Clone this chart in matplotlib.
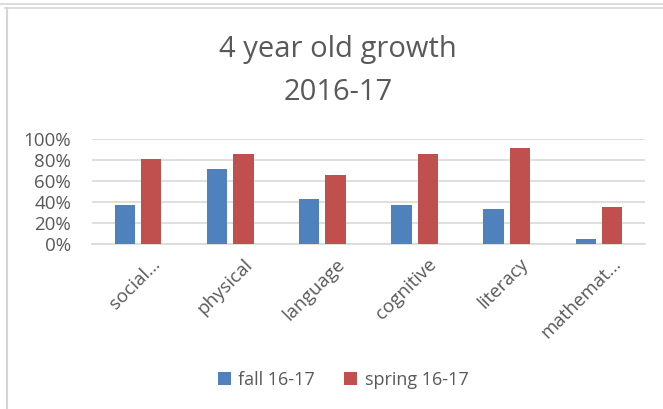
import numpy as np
import matplotlib
matplotlib.use('Agg')
import matplotlib.pyplot as plt
import matplotlib.transforms as mtransforms
from matplotlib.lines import Line2D
from matplotlib.ticker import PercentFormatter

plt.rcParams['font.family'] = ['Open Sans', 'DejaVu Sans']

categories = ['social…', 'physical', 'language', 'cognitive', 'literacy', 'mathemat…']
fall = [0.37, 0.71, 0.43, 0.37, 0.33, 0.05]
spring = [0.81, 0.86, 0.66, 0.86, 0.91, 0.35]
series_names = ['fall 16-17', 'spring 16-17']

blue = '#4f81bd'
red = '#c0504d'
gray = '#595959'

fig = plt.figure(figsize=(6.63, 4.09), dpi=100)
ax = fig.add_axes([92/663, 1-244/409, 553/663, 105/409])

x = np.arange(len(categories))
w = 0.22
gap = 0.065
ax.bar(x - (w+gap)/2, fall, w, color=blue, label=series_names[0], zorder=3)
ax.bar(x + (w+gap)/2, spring, w, color=red, label=series_names[1], zorder=3)

ax.set_xlim(-0.5, len(categories)-0.5)
ax.set_ylim(0, 1.0)
ax.set_yticks(np.arange(0, 1.01, 0.2))
ax.yaxis.set_major_formatter(PercentFormatter(1.0, decimals=0))
ax.grid(axis='y', color='#d9d9d9', linewidth=1.2, zorder=0)
for s in ['top', 'right', 'left']:
    ax.spines[s].set_visible(False)
ax.spines['bottom'].set_color('#d9d9d9')
ax.spines['bottom'].set_linewidth(1.2)
ax.tick_params(axis='both', length=0, labelcolor=gray, labelsize=13.5)
ax.tick_params(axis='y', pad=15)
ax.set_xticks(x)
ax.set_xticklabels(categories, rotation=45, ha='right', rotation_mode='anchor')
ax.tick_params(axis='x', pad=8)
offset = mtransforms.ScaledTranslation(13/100, 0, fig.dpi_scale_trans)
for lbl in ax.get_xticklabels():
    lbl.set_transform(lbl.get_transform() + offset)

fig.text(0.51, 1-50/409, '4 year old growth', ha='center', va='center', fontsize=21, color=gray)
fig.text(0.51, 1-93/409, '2016-17', ha='center', va='center', fontsize=21, color=gray)

leg = fig.legend(loc='center', bbox_to_anchor=(343/663, 1-380/409), ncol=2, frameon=False,
                 fontsize=13, handlelength=0.75, handleheight=0.75, handletextpad=0.4,
                 columnspacing=1.6, labelcolor=gray)

# chart frame lines from the screenshot
fig.add_artist(Line2D([0, 1], [1-3.5/409, 1-3.5/409], color='#d6d6d6', lw=1.2))
fig.add_artist(Line2D([0.008, 1], [1-8/409, 1-8/409], color='#d6d6d6', lw=1.2))
fig.add_artist(Line2D([6.5/663, 6.5/663], [0, 1-8/409], color='#d6d6d6', lw=1.5))

fig.savefig('out.png', dpi=100)
